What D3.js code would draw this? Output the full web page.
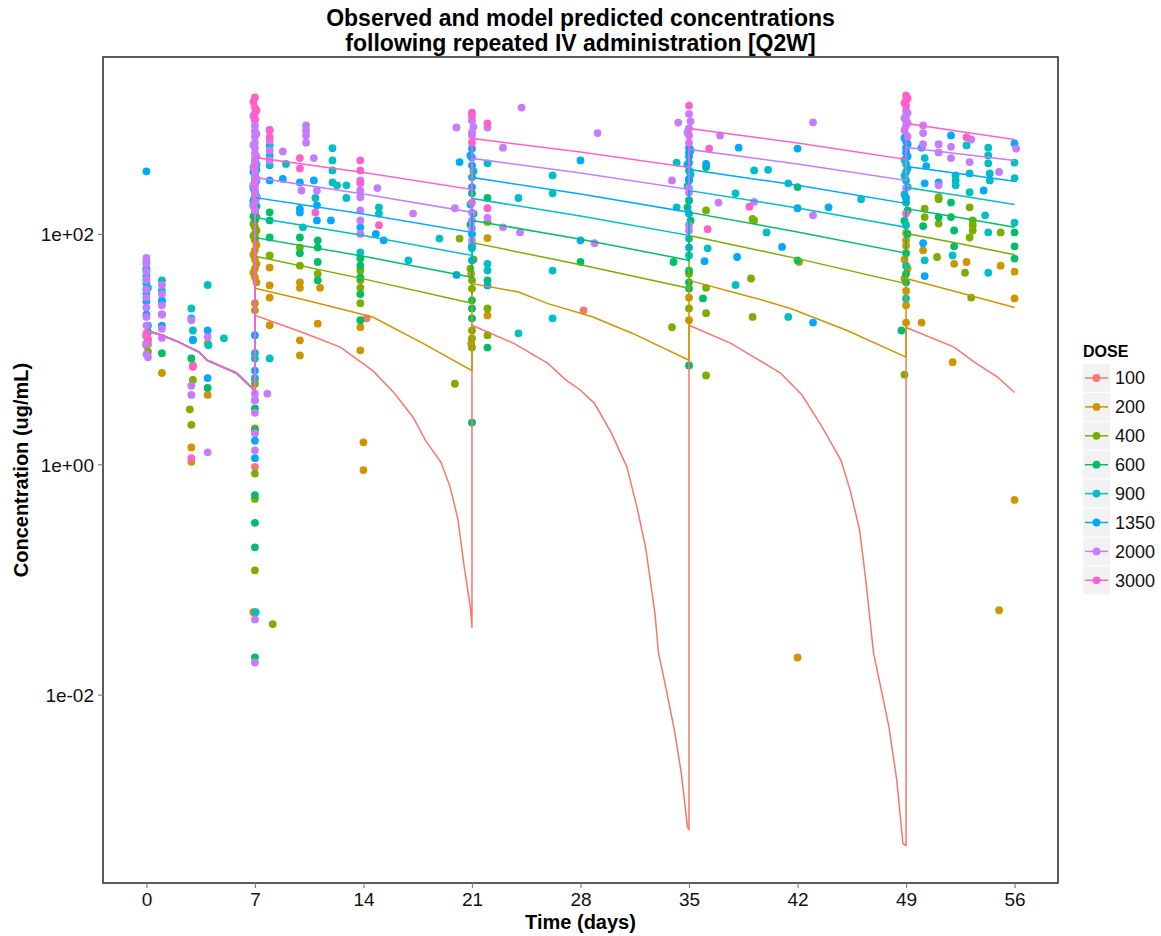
<!DOCTYPE html>
<html>
<head>
<meta charset="utf-8">
<script src="https://cdn.jsdelivr.net/npm/d3@7"></script>
<style>
  body { margin: 0; background: #fff; }
  svg { display: block; font-family: "Liberation Sans", Arial, sans-serif; }
</style>
</head>
<body>
<svg id="chart" width="1161" height="936"></svg>
<script>
// dose groups and their ggplot hue colours
const doses = ['100', '200', '400', '600', '900', '1350', '2000', '3000'];
const doseColors = ['#F8766D', '#CD9600', '#7CAE00', '#00BE67', '#00BFC4', '#00A9FF', '#C77CFF', '#FF61CC'];

const xTicks = [0, 7, 14, 21, 28, 35, 42, 49, 56];
const yTicks = [1e-2, 1, 1e2];
const yTickLabels = ['1e-02', '1e+00', '1e+02'];

// model prediction, first week (same for all groups)
const predWeek1 = [[0, 14.5], [1, 13.2], [2.1, 11.5], [3.4, 9.4], [3.9, 8.0], [5.8, 6.2], [6.8, 4.6], [7, 4.2]];

// model predictions from day 7 on, [day, ug/mL]
const pred100 = [[7, 19.6], [10.3, 13.6], [12.5, 10.4], [14.6, 6.5], [16.0, 4.13], [17.2, 2.56], [18.0, 1.61], [19.0, 1.04],
  [19.6, 0.63], [20.1, 0.33], [20.5, 0.128], [20.9, 0.057], [21, 0.038],
  [21, 16.1], [23.7, 11.2], [25.9, 7.5], [27.05, 5.4], [28.0, 4.39], [28.9, 3.38], [30.0, 1.86], [31.0, 0.94], [31.65, 0.42],
  [32.2, 0.19], [32.8, 0.051], [33.03, 0.023], [33.5, 0.0116], [34.06, 0.0049], [34.5, 0.00208], [34.9, 0.00071], [35, 0.00067],
  [35, 16.1], [37.7, 11.2], [40.9, 6.2], [42.3, 3.97], [43.6, 2.09], [44.8, 1.08], [45.4, 0.59], [46.0, 0.27], [46.4, 0.099],
  [46.9, 0.023], [47.5, 0.0095], [47.9, 0.0052], [48.4, 0.0018], [48.8, 0.00051], [49, 0.00049],
  [49, 15.4], [52.1, 10.4], [53.4, 7.7], [54.9, 5.7], [56, 4.2]];
const pred200 = [[7, 33.7], [10.3, 26.5], [14.6, 19.0], [17.9, 11.1], [21, 6.5], [21, 37.0], [24.0, 31.3], [25.9, 24.8],
  [28.8, 19.0], [31.4, 13.6], [35, 8.0], [35, 39.5], [39.4, 27.4], [41.6, 22.4], [45.2, 14.5], [49, 8.5],
  [49, 41], [52.3, 31.3], [56, 23]];
const pred400 = [[7, 64], [14, 40.7], [21, 25], [21, 84], [28, 54], [35, 33.7], [35, 97], [42, 61], [49, 37], [49, 101], [52.5, 82], [56, 66]];
const pred600 = [[7, 93], [14, 64], [21, 42], [21, 131], [28, 90], [35, 59], [35, 154], [42, 104], [49, 68], [49, 166], [52.5, 138], [56, 114]];
const pred900 = [[7, 139], [14, 97], [21, 65], [21, 203], [28, 143], [35, 97], [35, 238], [42, 168], [49, 114], [49, 253], [52.5, 214], [56, 180]];
const pred1350 = [[7, 207], [14, 149], [21, 103], [21, 309], [28, 222], [35, 154], [35, 363], [42, 264], [49, 184], [49, 385], [52.5, 332], [56, 286]];
const pred2000 = [[7, 309], [14, 222], [21, 154], [21, 452], [28, 338], [35, 243], [35, 541], [42, 405], [49, 291], [49, 563], [52.5, 494], [56, 434]];
const pred3000 = [[7, 461], [14, 342], [21, 243], [21, 674], [28, 515], [35, 378], [35, 823], [42, 616], [49, 443], [49, 910], [52.5, 775], [56, 661]];

// observed concentrations, [day, ug/mL]
const obs100 = [[0, 13], [0.1, 11], [3, 7.2], [7, 5.5], [7, 0.95], [14.2, 18.5], [28.2, 21.7]];
const obs200 = [[0, 10.8], [0.1, 11.9], [1, 6.2], [2.9, 1.4], [2.9, 1.05], [3.95, 11.2], [3.95, 4.0], [7, 88], [7, 72], [7, 60],
  [7, 50], [7, 42], [7, 25], [7, 21.7], [6.9, 0.052], [7.1, 80], [6.9, 66], [7.1, 55], [6.9, 46], [7.1, 38],
  [7.95, 51], [7.95, 35.7], [7.95, 28], [7.95, 16.1], [9.9, 38], [9.9, 34],
  [9.9, 11.9], [9.9, 8.8], [11.2, 34], [11.05, 16.6], [13.8, 15.5], [13.8, 9.75], [14, 1.55], [14, 0.89], [20.95, 45], [20.95, 11.2],
  [22, 92], [22, 19.6], [35, 28], [35, 17.8], [42.1, 57], [42, 0.021], [49, 102], [49, 88], [49, 79], [49, 32], [49, 24], [49, 17],
  [48.9, 60], [49.1, 50], [48.9, 41],
  [50.1, 72], [50, 17], [52.1, 55], [52, 7.7], [52.9, 57], [55.1, 53], [55, 0.054], [56, 47], [56, 27.5], [56, 0.49]];
const obs400 = [[0.1, 9.5], [2.9, 2.2], [3, 5.4], [2.8, 3.0], [7, 150], [7, 130], [7, 115], [7, 100], [7, 92], [7, 5.0], [7, 2.05],
  [7.1, 140], [6.9, 122], [7.1, 107], [6.9, 96],
  [7, 0.83], [7, 0.5], [7, 0.12], [8.15, 0.041], [7.95, 65], [9.9, 76], [9.9, 53], [11.05, 45], [13.8, 48], [13.8, 39.5], [13.8, 34],
  [13.8, 25], [20.2, 91], [19.9, 5.0], [21, 39.5], [21, 33.5], [21, 14.5], [21, 12.4], [21, 10.3], [21.1, 60], [20.9, 50],
  [22, 127], [22, 22.5], [22, 13.2],
  [33.9, 15.5], [35, 45], [35, 22.5], [36.1, 160], [36.1, 34], [36.1, 20.5], [36.1, 5.9], [39.1, 135], [39.2, 131], [39, 41],
  [39.1, 19], [48.9, 6.0], [50.2, 166], [50.2, 140], [51.1, 208], [51.1, 200], [51.1, 123], [51, 63], [53.1, 170], [53.3, 131],
  [53.3, 119], [53.3, 107], [53.1, 93], [52.8, 46], [53.2, 28], [55.1, 103]];
const obs600 = [[0, 11.2], [0.1, 14], [1, 9.2], [2.9, 8.3], [3, 12], [3.95, 4.6], [7, 205], [7, 185], [7, 165], [7, 150], [7, 135],
  [6.9, 195], [7.1, 175], [6.9, 142],
  [7, 3.05], [7, 1.97], [7, 0.54], [7, 0.31], [7, 0.19], [7, 0.021], [7.95, 154], [7.95, 131], [7.95, 93], [9.9, 93], [9.9, 68],
  [11.05, 88], [11.05, 76], [11.05, 57], [11.05, 39.5], [13.8, 61], [13.8, 53], [13.8, 42], [13.8, 30], [13.8, 17.8], [21, 225],
  [21.1, 150], [20.9, 120],
  [21, 26.5], [21, 22.5], [21, 18.5], [21, 2.3], [22, 205], [22, 39.5], [22, 10.3], [28, 57], [34, 57], [35, 195], [35, 48], [35, 38],
  [34.9, 170], [35.1, 130],
  [35, 33.5], [35, 7.2], [36.1, 380], [35.9, 27.5], [42, 255], [42, 59], [49, 648], [49, 187], [49, 68], [49, 45], [49, 38],
  [49.1, 160], [48.9, 130], [49.1, 100],
  [48.7, 14.5], [50.1, 117], [51.1, 140], [51.9, 187], [51.9, 140], [52.1, 107], [52.1, 78], [56, 103], [56, 78], [56, 61]];
const obs900 = [[0, 57], [0, 50], [0, 43], [0, 37], [0, 30], [0.1, 34], [1, 39.5], [1, 32], [1, 26.5], [2.9, 22.5], [3, 14.5],
  [3.95, 36], [4, 10.8], [5, 12.4], [7, 390], [7, 330], [7, 295], [7, 225], [7, 200], [7, 9.2], [7, 8.3], [7, 5.6], [7, 3.6],
  [7.1, 360], [6.9, 260], [7.1, 212],
  [7.05, 0.052], [7.95, 586], [7.95, 480], [7.95, 394], [7.95, 8.3], [9, 405], [10.1, 114], [10.9, 205], [12, 555], [12, 434],
  [12, 356], [12, 280], [12.3, 264], [12.9, 264], [12.9, 205], [13.8, 69], [15, 170], [15, 150], [16.9, 59], [18.9, 91], [21, 460],
  [21, 310], [21, 75], [21.1, 350], [20.9, 180], [22, 410], [22, 55], [22, 48], [24, 13.7], [24, 205], [26.2, 322], [26.2, 225], [26.2, 48], [26.2, 18.5],
  [34.2, 415], [34.2, 170], [35, 415], [35, 356], [35, 291], [35, 91], [35, 65], [35.1, 330], [34.9, 260],
  [36.2, 75], [38, 225], [38, 36], [39.2, 356],
  [40.1, 360], [41.4, 275], [40, 103], [41.4, 19], [46.1, 200], [49, 405], [49, 345], [49, 291], [49, 119], [49, 53], [49, 27.5],
  [48.9, 440], [49.1, 370], [48.9, 320], [49.1, 255], [48.9, 220],
  [50.2, 455], [50.2, 59], [52.2, 322], [52.2, 291], [52.2, 264], [52, 65], [52.9, 586], [53.1, 335], [53.1, 230], [54.3, 560],
  [54.3, 480], [54.3, 410], [54.4, 335], [54.4, 291], [54.1, 145], [54.3, 103], [54.3, 46], [56, 415], [56, 305], [56, 125]];
const obs1350 = [[0, 349], [0, 48], [0, 40], [0, 33], [0, 26], [0, 20], [0.1, 16], [1, 26], [1, 20], [1, 16], [2.9, 18.5], [3, 12],
  [3.95, 14.5], [3.95, 5.6], [7, 430], [7, 370], [7, 320], [7, 270], [7, 230], [7, 190], [7, 165], [7, 13.2], [7, 6.5], [7, 1.6],
  [7.1, 400], [6.9, 345], [7.1, 290], [6.9, 250], [7.1, 210], [6.9, 180],
  [7, 1.13], [7.95, 291], [8.8, 300], [9.9, 280], [9.9, 165], [9.9, 153], [10.8, 291], [11, 177], [11, 131], [11.9, 131],
  [13.8, 114], [14.8, 100], [15.3, 88], [20.2, 420], [20, 44], [21, 550], [21, 394], [21, 255], [21, 100], [21, 79], [21, 59],
  [20.9, 480],
  [22, 35.7], [28, 434], [28, 88], [35, 560], [35, 510], [35, 470], [35, 300], [35, 150], [35, 76], [35.1, 530], [34.9, 400],
  [36.1, 405], [36, 58],
  [38.1, 63], [38.2, 560], [42, 550], [42, 167], [41, 77], [44, 170], [43, 17], [49, 716], [49, 648], [49, 560], [49, 510],
  [49.1, 600], [48.9, 680], [49.1, 470],
  [49, 205], [50, 560], [50.3, 388], [50.2, 275], [50.1, 83], [50.2, 43], [51.1, 280], [51.9, 716], [54, 238], [56, 610]];
const obs2000 = [[0, 62], [0, 55], [0, 47], [0, 40], [0, 33], [0, 28], [0, 23], [0, 19], [0, 16], [0, 13], [0, 11], [0, 9.0],
  [0.1, 8.5], [1, 36], [1, 30], [1, 24], [1, 20], [1, 15], [1, 12.5], [2.9, 17.8], [2.9, 4.8], [2.9, 4.0], [3.95, 12.7], [3.95, 1.27],
  [7, 966], [7, 870], [7, 780], [7, 700], [7, 620], [7, 560], [7, 500], [7, 450], [7, 400], [7, 360], [7, 320], [7, 280], [7, 250],
  [6.9, 1050], [7.1, 740], [6.9, 590], [7.1, 470], [6.9, 380], [7.1, 300], [6.9, 265], [7.1, 205], [6.9, 175],
  [7, 220], [7, 190], [7, 160], [7, 4.1], [7, 3.6], [7, 2.8], [7, 1.86], [7, 1.32], [7.8, 4.1], [7, 0.019], [7, 0.045], [7.95, 791],
  [7.95, 648], [7.95, 530], [7.95, 434], [8.8, 520], [10.3, 874], [10.3, 791], [10.3, 716], [10.3, 620], [10, 238], [10.8, 455],
  [11, 238], [13.8, 291], [13.8, 238], [13.8, 208], [13.8, 160], [13.8, 131], [13.8, 100], [14.9, 250], [17.2, 150], [20, 840],
  [19.9, 167], [21, 966], [21, 760], [21, 716], [21, 153], [21, 131], [21, 112], [21, 88], [21.1, 850],
  [22, 840], [22, 138], [23, 560], [23, 114],
  [24.2, 1250], [24.1, 103], [28.9, 83], [29.1, 750], [34.3, 925], [33.9, 291], [35, 1100], [35, 823], [35, 716], [35, 620],
  [35.1, 950], [34.9, 760],
  [35, 250], [35, 228], [35, 119], [35, 107], [37, 716], [36.9, 187], [39.2, 190], [43, 930], [43, 145], [49, 1180], [49, 1067],
  [49.1, 1120], [48.9, 1010], [49.1, 920], [48.9, 800], [49.1, 700],
  [49, 966], [49, 874], [49, 250], [50.1, 874], [50.1, 750], [50.1, 600], [51.1, 600], [51.1, 510], [51.1, 264], [51.9, 570],
  [51.9, 455], [53.2, 660], [53.1, 420], [55, 345], [56.1, 550]];
const obs3000 = [[0, 13.7], [0.1, 12.3], [2.9, 1.13], [3, 7], [7, 1530], [7, 1250], [7, 1120], [7, 1000], [6.9, 1400], [7.1, 1180],
  [7.95, 800], [7.95, 690],
  [9.9, 455], [9.9, 370], [10.9, 153], [13.8, 434], [13.8, 356], [13.8, 275], [15, 119], [21, 1130], [21, 1067], [21, 620], [21, 187],
  [22, 910], [22, 167], [35, 1300], [36.3, 550], [36.2, 110], [38.9, 172], [49, 1590], [49, 1440], [49, 1300], [49, 150],
  [49.1, 1500], [48.9, 1370], [52.9, 690]];

const predByDose = [pred100, pred200, pred400, pred600, pred900, pred1350, pred2000, pred3000];
const obsByDose = [obs100, obs200, obs400, obs600, obs900, obs1350, obs2000, obs3000];

// layout
const panel = {left: 103, right: 1058, top: 57, bottom: 883};

const svg = d3.select('#chart');

const x = d3.scaleLinear().domain([-2.8, 58.8]).range([panel.left, panel.right]);
const y = d3.scaleLog()
  .domain([Math.pow(10, -3.6356), Math.pow(10, 3.5358)])
  .range([panel.bottom, panel.top]);
const color = d3.scaleOrdinal().domain(doses).range(doseColors);

svg.append('defs').append('clipPath').attr('id', 'clip')
  .append('rect')
  .attr('x', panel.left).attr('y', panel.top)
  .attr('width', panel.right - panel.left).attr('height', panel.bottom - panel.top);

const plot = svg.append('g').attr('clip-path', 'url(#clip)');

// observed points
doses.forEach((dose, i) => {
  plot.append('g').selectAll('circle')
    .data(obsByDose[i])
    .enter()
    .append('circle')
    .attr('cx', d => x(d[0]))
    .attr('cy', d => y(d[1]))
    .attr('r', 3.9)
    .attr('fill', color(dose));
});

// predicted lines
const line = d3.line().x(d => x(d[0])).y(d => y(d[1]));
doses.forEach((dose, i) => {
  plot.append('path')
    .datum(predWeek1.concat(predByDose[i]))
    .attr('d', line)
    .attr('fill', 'none')
    .attr('stroke', color(dose))
    .attr('stroke-width', 1.5);
});

// panel border
svg.append('rect')
  .attr('x', panel.left).attr('y', panel.top)
  .attr('width', panel.right - panel.left).attr('height', panel.bottom - panel.top)
  .attr('fill', 'none').attr('stroke', '#333').attr('stroke-width', 1.6);

// axes
const xAxis = svg.append('g')
  .attr('transform', `translate(0,${panel.bottom})`)
  .call(d3.axisBottom(x).tickValues(xTicks).tickSize(5).tickPadding(4));
const yAxis = svg.append('g')
  .attr('transform', `translate(${panel.left},0)`)
  .call(d3.axisLeft(y).tickValues(yTicks).tickFormat((d, i) => yTickLabels[i]).tickSize(5).tickPadding(4));
[xAxis, yAxis].forEach(ax => {
  ax.select('.domain').remove();
  ax.selectAll('.tick line').attr('stroke', '#7f7f7f').attr('stroke-width', 1.2);
  ax.selectAll('.tick text')
    .attr('font-family', '"Liberation Sans", Arial, sans-serif')
    .attr('font-size', 19).attr('fill', '#111');
});
xAxis.selectAll('.tick text').attr('dy', '0.72em');
yAxis.selectAll('.tick text').attr('dy', '0.36em');

// titles
const title = svg.append('text')
  .attr('text-anchor', 'middle')
  .attr('font-size', 23).attr('font-weight', 'bold').attr('fill', '#000');
title.append('tspan').attr('x', (panel.left + panel.right) / 2).attr('y', 26)
  .text('Observed and model predicted concentrations');
title.append('tspan').attr('x', (panel.left + panel.right) / 2).attr('y', 51)
  .text('following repeated IV administration [Q2W]');

svg.append('text')
  .attr('x', (panel.left + panel.right) / 2).attr('y', 929)
  .attr('text-anchor', 'middle')
  .attr('font-size', 20).attr('font-weight', 'bold')
  .text('Time (days)');

svg.append('text')
  .attr('transform', `translate(28,${(panel.top + panel.bottom) / 2}) rotate(-90)`)
  .attr('text-anchor', 'middle')
  .attr('font-size', 20).attr('font-weight', 'bold')
  .text('Concentration (ug/mL)');

// legend
const legend = svg.append('g').attr('transform', 'translate(1083,0)');
legend.append('text')
  .attr('x', 0).attr('y', 357)
  .attr('font-size', 16).attr('font-weight', 'bold')
  .text('DOSE');
const keys = legend.selectAll('g.key')
  .data(doses)
  .enter()
  .append('g')
  .attr('class', 'key')
  .attr('transform', (d, i) => `translate(0,${364 + i * 28.9})`);
keys.append('rect')
  .attr('width', 27).attr('height', 27.9)
  .attr('fill', '#f2f2f2');
keys.append('line')
  .attr('x1', 2).attr('x2', 25).attr('y1', 14).attr('y2', 14)
  .attr('stroke', d => color(d)).attr('stroke-width', 1.5);
keys.append('circle')
  .attr('cx', 13.5).attr('cy', 14).attr('r', 3.9)
  .attr('fill', d => color(d));
keys.append('text')
  .attr('x', 32).attr('y', 14).attr('dy', '0.36em')
  .attr('font-size', 18).attr('fill', '#111')
  .text(d => d);
</script>
</body>
</html>
